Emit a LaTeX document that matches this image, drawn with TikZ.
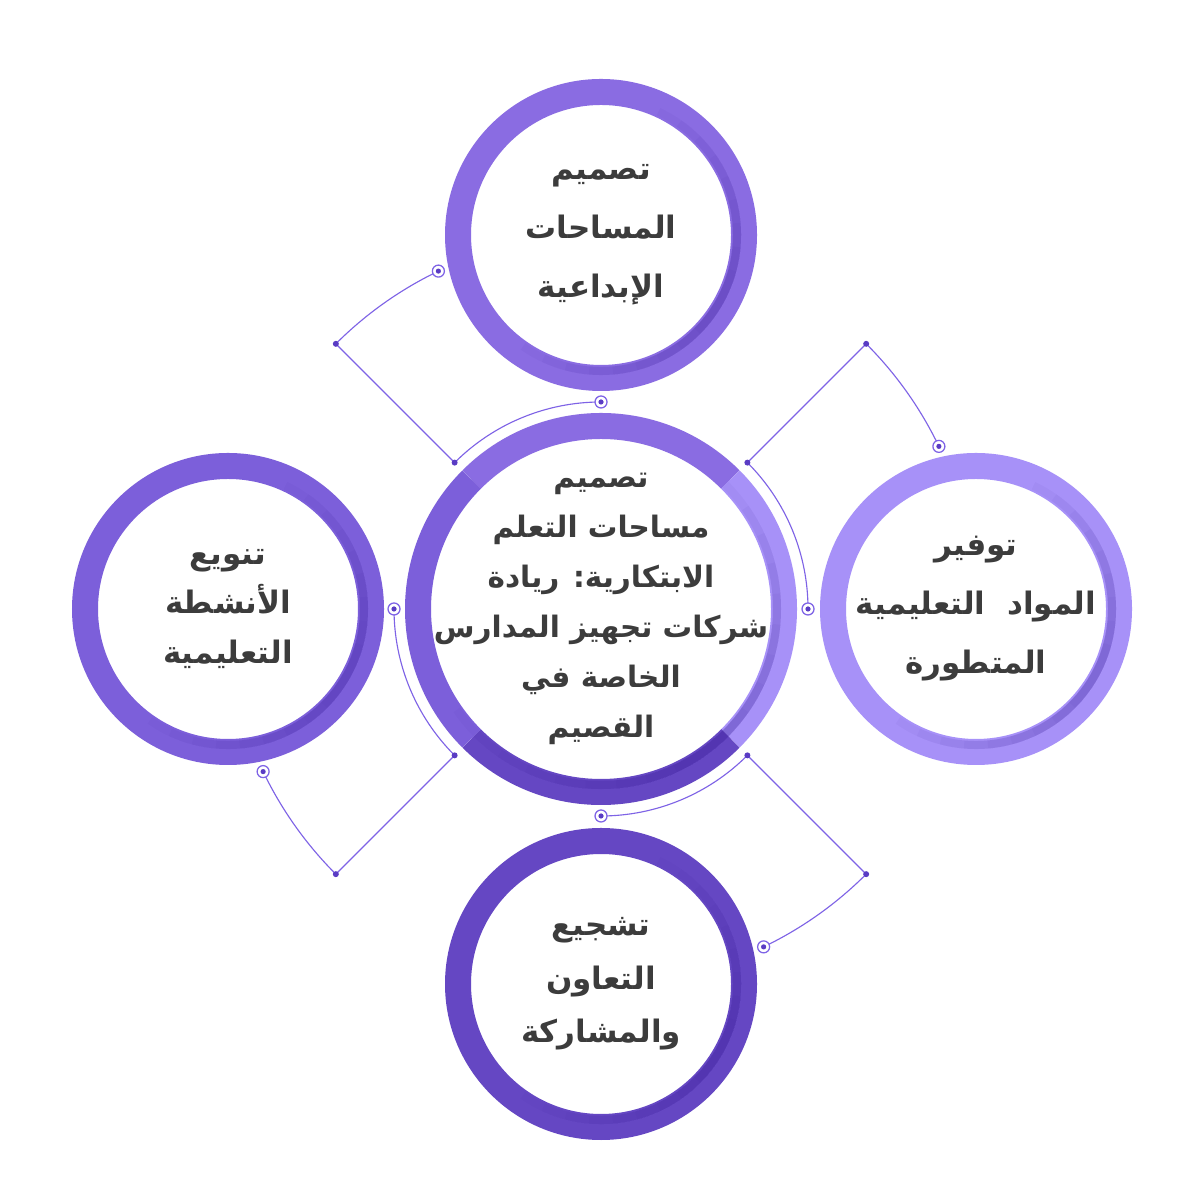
\documentclass[tikz,border=0pt]{standalone}
\usepackage{fontspec}
\usepackage{xcolor}
\usepackage{tikz}
\usetikzlibrary{calc,positioning}
\newfontfamily\arabicfont[Script=Arabic]{DejaVu Sans}
\TeXXeTstate=1
\definecolor{ringtop}{HTML}{8A6CE2}
\definecolor{ringright}{HTML}{A791F8}
\definecolor{ringleft}{HTML}{7C5FDA}
\definecolor{ringbottom}{HTML}{6547C3}
\definecolor{linkpurple}{HTML}{7E63E6}
\definecolor{knotpurple}{HTML}{5A3CC4}
\definecolor{shadowpurple}{HTML}{3A1E9A}
\definecolor{textgray}{HTML}{3C3C3C}
\pgfdeclarelayer{bg}
\pgfsetlayers{bg,main}

\begin{document}
\begin{tikzpicture}[x=0.025cm, y=0.025cm,
		ringline/.style={draw=#1, line width=0.65cm},
		shade arc/.style={draw=shadowpurple, line width=0.2cm, opacity=0.045},
		label text/.style={align=center, text=textgray, inner sep=0pt, font=\arabicfont\bfseries\fontsize{22}{42}\selectfont},
		knot/.style={circle, fill=knotpurple, minimum size=0.15cm, inner sep=0pt},
		ringdot/.style={circle, draw=linkpurple, fill=white, line width=0.9pt, minimum size=0.3cm, inner sep=0pt,
			path picture={\fill[knotpurple] (path picture bounding box.center) circle (0.065cm);}},
		link/.style={draw=linkpurple, line width=0.8pt}]
	\begin{pgfonlayer}{bg}
		\fill[white] (0,0) rectangle (1200,1200);
	\end{pgfonlayer}
	\useasboundingbox (0,0) rectangle (1200,1200);
	
	% centre circle and its four coloured quarters
	\node[label text, font=\arabicfont\bfseries\fontsize{21}{35.5}\selectfont] (main) at (601,591)
		{\beginR تصميم\endR\\ \beginR مساحات التعلم\endR\\ \beginR الابتكارية: ريادة\endR\\
		 \beginR شركات تجهيز المدارس\endR\\ \beginR الخاصة في\endR\\ \beginR القصيم\endR};
	\foreach \a/\c in {45/ringtop,-45/ringright,-135/ringbottom,135/ringleft}
		\draw[ringline=\c] (601,591) ++(\a:183) arc[start angle=\a, end angle=\a+90, radius=183];
	\foreach \h in {15,25,...,95}
		\draw[shade arc] (601,591) ++(-50-\h:176) arc[start angle=-50-\h, end angle=-50+\h, radius=176];
	
	% outer circles
	\node[label text] (design) at ($(601,591)+(90:374)$)
		{\beginR تصميم\endR\\ \beginR المساحات\endR\\ \beginR الإبداعية\endR};
	\node[label text] (materials) at ($(601,591)+(0:375)$)
		{\beginR توفير\endR\\ \beginR المواد\ \ التعليمية\endR\\ \beginR المتطورة\endR};
	\node[label text, font=\arabicfont\bfseries\fontsize{22}{38}\selectfont] (cooperation) at ($(601,591)+(-90:375)$)
		{\beginR تشجيع\endR\\ \beginR التعاون\endR\\ \beginR والمشاركة\endR};
	\node[label text, font=\arabicfont\bfseries\fontsize{22}{35.5}\selectfont] (activities) at ($(601,591)+(180:373)$)
		{\beginR تنويع\endR\\ \beginR الأنشطة\endR\\ \beginR التعليمية\endR};
	\foreach \n/\c in {design/ringtop,materials/ringright,cooperation/ringbottom,activities/ringleft} {
		\draw[ringline=\c] (\n) circle[radius=143];
		\foreach \h in {15,25,...,95}
			\draw[shade arc] (\n) ++(-30-\h:136) arc[start angle=-30-\h, end angle=-30+\h, radius=136];
	}
	
	% connectors with knots and ring markers
	\foreach \a/\n in {135/tl,45/tr,-45/br,-135/bl} {
		\node[knot] (kin\n) at ($(601,591)+(\a:207)$) {};
		\node[knot] (kout\n) at ($(601,591)+(\a:375)$) {};
		\node[ringdot] (min\n) at ($(601,591)+(\a-45:207)$) {};
		\node[ringdot] (mout\n) at ($(601,591)+(\a-19.3:375)$) {};
		\begin{pgfonlayer}{bg}
			\draw[link] (mout\n.center) arc[start angle=\a-19.3, end angle=\a, radius=375]
				-- (kin\n.center) arc[start angle=\a, end angle=\a-45, radius=207];
		\end{pgfonlayer}
	}
\end{tikzpicture}
\end{document}
